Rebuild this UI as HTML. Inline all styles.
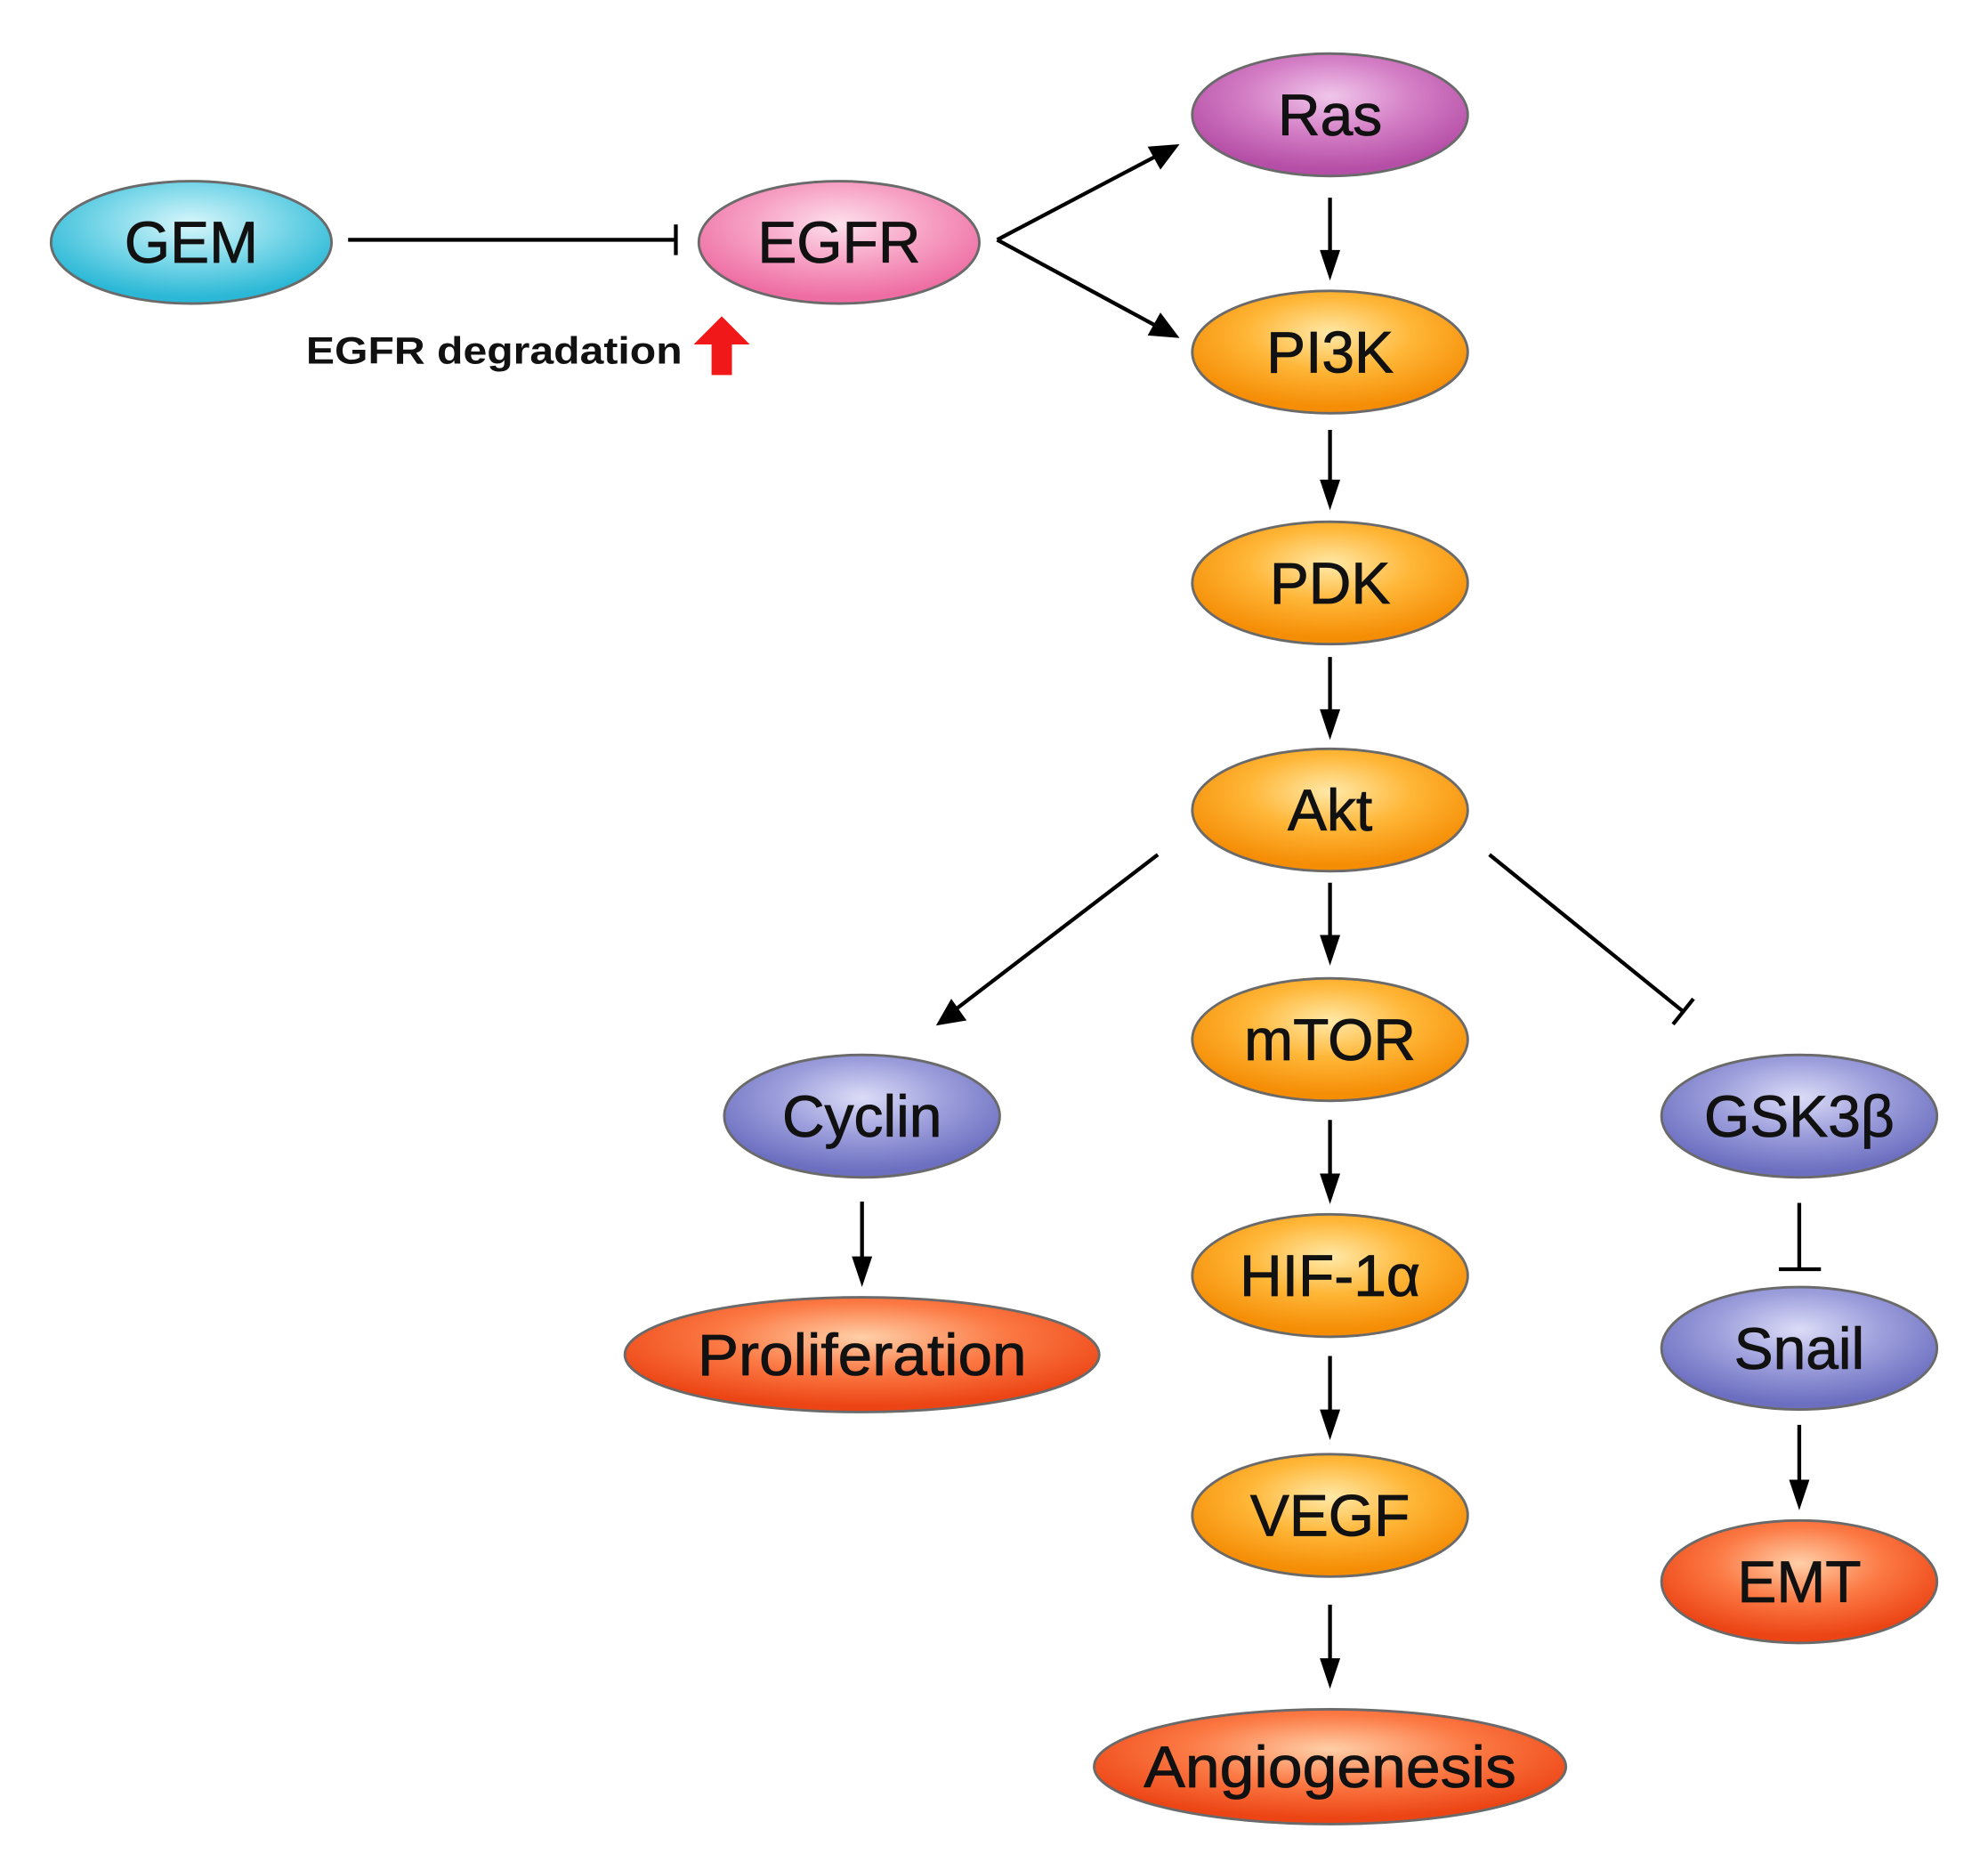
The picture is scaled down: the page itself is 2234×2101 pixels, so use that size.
<!DOCTYPE html>
<html><head><meta charset="utf-8"><style>html,body{margin:0;padding:0;background:#fff}svg{display:block}</style></head>
<body>
<svg width="2234" height="2101" viewBox="0 0 1559 1466" preserveAspectRatio="none" xmlns="http://www.w3.org/2000/svg" font-family="Liberation Sans, sans-serif">
<defs>
<radialGradient id="cyan" cx="50%" cy="35%" r="60%"><stop offset="0" stop-color="#d8f6fb"/><stop offset="0.5" stop-color="#7fd9ea"/><stop offset="1" stop-color="#2bb8d6"/></radialGradient>
<radialGradient id="pink" cx="50%" cy="35%" r="60%"><stop offset="0" stop-color="#fde0ec"/><stop offset="0.5" stop-color="#f7a4c6"/><stop offset="1" stop-color="#ee6ea4"/></radialGradient>
<radialGradient id="purple" cx="50%" cy="35%" r="60%"><stop offset="0" stop-color="#f0c6ea"/><stop offset="0.5" stop-color="#d47fc6"/><stop offset="1" stop-color="#b54ea6"/></radialGradient>
<radialGradient id="orange" cx="50%" cy="35%" r="60%"><stop offset="0" stop-color="#ffe9a8"/><stop offset="0.5" stop-color="#ffb637"/><stop offset="1" stop-color="#f58d05"/></radialGradient>
<radialGradient id="blue" cx="50%" cy="35%" r="60%"><stop offset="0" stop-color="#dcdcf7"/><stop offset="0.5" stop-color="#9d9fdc"/><stop offset="1" stop-color="#6c6fc0"/></radialGradient>
<radialGradient id="red" cx="50%" cy="35%" r="60%"><stop offset="0" stop-color="#ffcfa8"/><stop offset="0.5" stop-color="#fc7a45"/><stop offset="1" stop-color="#ec4414"/></radialGradient>
</defs>
<g stroke="#000" stroke-width="3" fill="none">
<line x1="273" y1="188" x2="530" y2="188"/><line x1="530" y1="176" x2="530" y2="200"/>
<line x1="782" y1="188" x2="915" y2="118"/><line x1="782" y1="188" x2="915" y2="260"/>
<line x1="1043" y1="155" x2="1043" y2="210"/>
<line x1="1043" y1="337" x2="1043" y2="390"/>
<line x1="1043" y1="515" x2="1043" y2="570"/>
<line x1="1043" y1="692" x2="1043" y2="747"/>
<line x1="1043" y1="878" x2="1043" y2="934"/>
<line x1="1043" y1="1063" x2="1043" y2="1119"/>
<line x1="1043" y1="1258" x2="1043" y2="1314"/>
<line x1="908" y1="670" x2="742" y2="797"/>
<line x1="1168" y1="670" x2="1320" y2="793"/><line x1="1312" y1="803" x2="1328" y2="783"/>
<line x1="676" y1="942" x2="676" y2="999"/>
<line x1="1411" y1="943" x2="1411" y2="995"/><line x1="1395" y1="995" x2="1428" y2="995"/>
<line x1="1411" y1="1117" x2="1411" y2="1174"/>
</g>
<g fill="#000">
<polygon points="925,113 900,115 910,133"/>
<polygon points="925,265 910,245 900,263"/>
<polygon points="1043,220 1035,196 1051,196"/>
<polygon points="1043,400 1035,376 1051,376"/>
<polygon points="1043,580 1035,556 1051,556"/>
<polygon points="1043,757 1035,733 1051,733"/>
<polygon points="1043,944 1035,920 1051,920"/>
<polygon points="1043,1129 1035,1105 1051,1105"/>
<polygon points="1043,1324 1035,1300 1051,1300"/>
<polygon points="676,1009 668,985 684,985"/>
<polygon points="1411,1184 1403,1160 1419,1160"/>
<polygon points="734,804 746,783 758,800"/>
</g>
<g stroke="#6a6a6a" stroke-width="2">
<ellipse cx="150" cy="190" rx="110" ry="48" fill="url(#cyan)"/>
<ellipse cx="658" cy="190" rx="110" ry="48" fill="url(#pink)"/>
<ellipse cx="1043" cy="90" rx="108" ry="48" fill="url(#purple)"/>
<ellipse cx="1043" cy="276" rx="108" ry="48" fill="url(#orange)"/>
<ellipse cx="1043" cy="457" rx="108" ry="48" fill="url(#orange)"/>
<ellipse cx="1043" cy="635" rx="108" ry="48" fill="url(#orange)"/>
<ellipse cx="1043" cy="815" rx="108" ry="48" fill="url(#orange)"/>
<ellipse cx="1043" cy="1000" rx="108" ry="48" fill="url(#orange)"/>
<ellipse cx="1043" cy="1188" rx="108" ry="48" fill="url(#orange)"/>
<ellipse cx="1043" cy="1385" rx="185" ry="45" fill="url(#red)"/>
<ellipse cx="676" cy="875" rx="108" ry="48" fill="url(#blue)"/>
<ellipse cx="676" cy="1062" rx="186" ry="45" fill="url(#red)"/>
<ellipse cx="1411" cy="875" rx="108" ry="48" fill="url(#blue)"/>
<ellipse cx="1411" cy="1057" rx="108" ry="48" fill="url(#blue)"/>
<ellipse cx="1411" cy="1240" rx="108" ry="48" fill="url(#red)"/>
</g>
<g font-size="46" text-anchor="middle" fill="#111" stroke="#111" stroke-width="0.6">
<text x="150" y="206">GEM</text>
<text x="658" y="206">EGFR</text>
<text x="1043" y="106">Ras</text>
<text x="1043" y="292">PI3K</text>
<text x="1043" y="473">PDK</text>
<text x="1043" y="651">Akt</text>
<text x="1043" y="831">mTOR</text>
<text x="1043" y="1016">HIF-1α</text>
<text x="1043" y="1204">VEGF</text>
<text x="1043" y="1401" textLength="292" lengthAdjust="spacingAndGlyphs">Angiogenesis</text>
<text x="676" y="891">Cyclin</text>
<text x="676" y="1078" textLength="258" lengthAdjust="spacingAndGlyphs">Proliferation</text>
<text x="1411" y="891">GSK3β</text>
<text x="1411" y="1073">Snail</text>
<text x="1411" y="1256">EMT</text>
</g>
<text x="240" y="285" font-size="30" font-weight="bold" fill="#111" textLength="295" lengthAdjust="spacingAndGlyphs">EGFR degradation</text>
<polygon points="566,248 588,270 574,270 574,294 558,294 558,270 544,270" fill="#f01818"/>
</svg>
</body></html>
